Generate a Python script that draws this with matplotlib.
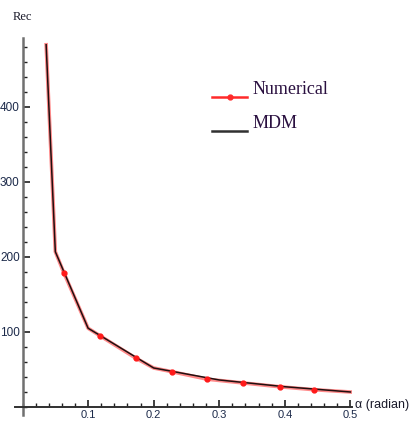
import matplotlib
matplotlib.use('Agg')
import matplotlib.pyplot as plt
from matplotlib.lines import Line2D
from matplotlib.ticker import MultipleLocator

# angle (radian) vs critical Reynolds number
alpha_num = [0.036, 0.05, 0.063, 0.1, 0.118, 0.173, 0.2, 0.228, 0.282, 0.337, 0.392, 0.445, 0.5]
rec_num = [483, 207, 179, 105, 95, 65, 52, 47, 37, 32, 27, 23, 20]
marker_idx = [2, 4, 5, 7, 8, 9, 10, 11]

alpha_mdm = [0.036, 0.05, 0.1, 0.2, 0.3, 0.4, 0.5]
rec_mdm = [483, 207, 105, 52, 36, 27, 20]

x_ticks = [0.1, 0.2, 0.3, 0.4, 0.5]
y_ticks = [100, 200, 300, 400]

fig = plt.figure(figsize=(4.14, 4.24), dpi=100)
ax = fig.add_axes([15 / 414, 9 / 424, 337 / 414, 377 / 424])

ax.plot(alpha_num, rec_num, color='#ff2a2a', lw=2.6, alpha=0.55, zorder=2)
ax.plot([alpha_num[i] for i in marker_idx], [rec_num[i] for i in marker_idx],
        'o', color='#ff1a1a', ms=3.5, zorder=4)
ax.plot(alpha_mdm, rec_mdm, color='#201010', lw=1.1, zorder=3)

ax.set_xlim(-0.0115, 0.5025)
ax.set_ylim(-10.7, 492)

for side in ['top', 'right']:
    ax.spines[side].set_visible(False)
ax.spines['left'].set_position(('data', 0))
ax.spines['bottom'].set_position(('data', 0))
ax.spines['left'].set_color('#707070')
ax.spines['left'].set_linewidth(1.8)
ax.spines['bottom'].set_color('#303030')
ax.spines['bottom'].set_linewidth(1.4)

ax.xaxis.set_minor_locator(MultipleLocator(0.02))
ax.yaxis.set_minor_locator(MultipleLocator(20))
ax.set_xticks(x_ticks)
ax.set_yticks(y_ticks)
ax.set_xticklabels([f'{v:.1f}' for v in x_ticks])
ax.set_yticklabels([str(v) for v in y_ticks])

tick_font = ['Liberation Sans', 'DejaVu Sans']
ax.tick_params(axis='both', which='major', direction='in', length=5, width=1.2,
               colors='#202020', labelcolor='#1c2a4a', labelsize=8.5)
ax.tick_params(axis='both', which='minor', direction='in', length=3, width=1.0,
               colors='#202020')
ax.tick_params(axis='x', pad=2, labelsize=8)
ax.tick_params(axis='y', pad=2)
for lab in ax.get_xticklabels() + ax.get_yticklabels():
    lab.set_family(tick_font)

fig.text(13 / 414, 1 - 17 / 424, 'Rec', family='Liberation Serif', fontsize=9,
         color='#1a1a2a', ha='left', va='center')
fig.text(355 / 414, 1 - 405 / 424, 'α (radian)', family=tick_font, fontsize=9,
         color='#1a1a2a', ha='left', va='center')

# legend drawn by hand
fig.add_artist(Line2D([212 / 414, 247 / 414], [1 - 97 / 424] * 2, color='#ff2a2a', lw=1.8))
fig.add_artist(Line2D([230 / 414], [1 - 97 / 424], marker='o', color='#ff2a2a', ms=3.5))
fig.add_artist(Line2D([212 / 414, 247 / 414], [1 - 131 / 424] * 2, color='#303030', lw=1.8))
fig.text(253 / 414, 1 - 89 / 424, 'Numerical', family='Liberation Serif', fontsize=13,
         color='#2a1040', ha='left', va='center')
fig.text(253 / 414, 1 - 124 / 424, 'MDM', family='Liberation Serif', fontsize=13,
         color='#2a1040', ha='left', va='center')

fig.savefig('out.png', dpi=100)
